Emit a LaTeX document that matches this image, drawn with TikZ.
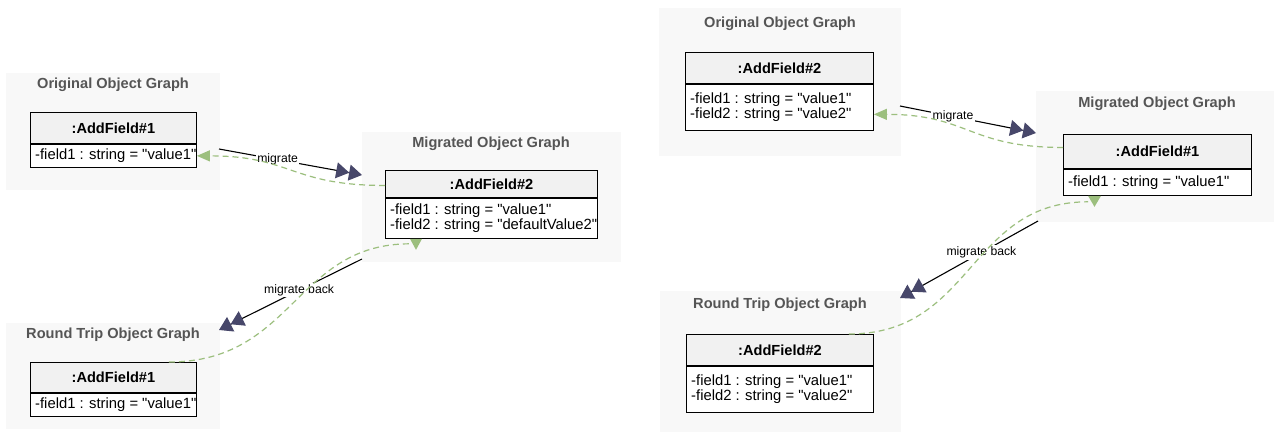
\documentclass[tikz,border=0pt]{standalone}
\usepackage{fontspec}
\setmainfont{Liberation Sans}[Ligatures=TeXOff]
\usetikzlibrary{arrows.meta,calc}

\definecolor{groupbg}{HTML}{F8F8F8}
\definecolor{titlegray}{HTML}{555555}
\definecolor{headbg}{HTML}{F1F1F1}
\definecolor{flowgreen}{HTML}{9CBF7E}
\definecolor{tipnavy}{HTML}{47476A}

\tikzset{
  group/.style={fill=groupbg, draw=none, anchor=north west, inner sep=0pt},
  grouptitle/.style={font=\fontsize{14.6}{16}\selectfont\bfseries, text=titlegray, inner sep=0pt},
  classhead/.style={draw=black, line width=0.9pt, fill=headbg, anchor=north west,
    inner sep=0pt, font=\fontsize{14.6}{16}\selectfont\bfseries},
  classbody/.style={draw=black, line width=0.9pt, fill=white, anchor=north west, inner sep=0pt},
  classtext/.style={anchor=west, inner sep=0pt, align=left,
    font=\fontsize{14.8}{14.6}\selectfont},
  transition/.style={draw=black, line width=1.1pt,
    -{Triangle[length=13pt,width=16pt,color=tipnavy]Triangle[length=13pt,width=16pt,color=tipnavy]}},
  translabel/.style={fill=white, inner sep=1.5pt, font=\fontsize{12.2}{14}\selectfont},
  flow/.style={draw=flowgreen, line width=1.2pt, dash pattern=on 6pt off 4pt},
  flowtip/.style={-{Triangle[length=13pt,width=11pt,color=flowgreen]}},
  endmark/.style={fill=flowgreen, draw=none},
}

% class box: name, x, y, width, header height, body height, header text, body text
\newcommand\umlbox[8]{%
  \node[classhead, minimum width=#4pt, minimum height=#5pt] (#1h) at (#2,#3) {#7};
  \node[classbody, minimum width=#4pt, minimum height=#6pt] (#1f) at (#1h.south west) {};
  \node[classtext] (#1t) at ($(#1f.west)+(5,0)$) {#8};
}

\begin{document}
\begin{tikzpicture}[x=1pt,y=-1pt]
  \useasboundingbox[fill=white] (0,0) rectangle (1274,432);

  % ---------- first round trip ----------
  \node[group, minimum width=214pt, minimum height=117pt] (gA) at (6,73) {};
  \node[grouptitle] (tA) at (113,85) {Original Object Graph};
  \umlbox{A}{30}{112}{166}{31}{23}{:AddField\#1}{-field1 : string = "value1"}

  \node[group, minimum width=259pt, minimum height=130pt] (gB) at (362,132) {};
  \node[grouptitle] (tB) at (491,144) {Migrated Object Graph};
  \umlbox{B}{385}{170}{212}{27}{40}{:AddField\#2}{-field1 : string = "value1"\\-field2 : string = "defaultValue2"}

  \node[group, minimum width=214pt, minimum height=106pt] (gC) at (6,323) {};
  \node[grouptitle] (tC) at (113,335) {Round Trip Object Graph};
  \umlbox{C}{30}{362}{166}{30}{23}{:AddField\#1}{-field1 : string = "value1"}

  % ---------- second round trip ----------
  \node[group, minimum width=242pt, minimum height=148pt] (gD) at (659,8) {};
  \node[grouptitle] (tD) at (780,24) {Original Object Graph};
  \umlbox{D}{685}{52}{188}{31}{46}{:AddField\#2}{-field1 : string = "value1"\\-field2 : string = "value2"}

  \node[group, minimum width=238pt, minimum height=131pt] (gE) at (1036,91) {};
  \node[grouptitle] (tE) at (1157,104) {Migrated Object Graph};
  \umlbox{E}{1063}{134}{188}{34}{26}{:AddField\#1}{-field1 : string = "value1"}

  \node[group, minimum width=241pt, minimum height=141pt] (gF) at (660,291) {};
  \node[grouptitle] (tF) at (780,305) {Round Trip Object Graph};
  \umlbox{F}{686}{334}{187}{31}{46}{:AddField\#2}{-field1 : string = "value1"\\-field2 : string = "value2"}

  % ---------- transition arrows ----------
  \coordinate (mA1) at (219,149);  \coordinate (mA2) at (362,175);
  \coordinate (bA1) at (362,259);  \coordinate (bA2) at (219,330);
  \coordinate (mD1) at (900,106);  \coordinate (mD2) at (1036,133);
  \coordinate (bE1) at (1038,221); \coordinate (bE2) at (900,298);

  \draw[transition] (mA1) -- node[translabel, pos=0.41] (lA) {migrate} (mA2);
  \draw[transition] (bA1) -- node[translabel, pos=0.44] (lB) {migrate back} (bA2);
  \draw[transition] (mD1) -- node[translabel, pos=0.39] (lD) {migrate} (mD2);
  \draw[transition] (bE1) -- node[translabel, pos=0.41] (lE) {migrate back} (bE2);

  % ---------- object correspondences ----------
  \draw[flow, flowtip] ($(Bh.west)+(0,1.5)$) .. controls +(-95,0) and +(95,0) .. (Af.east);
  \draw[flow] ($(Ch.north east)+(-28,0)$) .. controls +(125,0) and +(-115,0) .. ($(Bf.south west)+(25,5)$);
  \fill[endmark] ($(Bf.south west)+(25,0)$) -- ($(Bf.south west)+(37,0)$) -- ($(Bf.south west)+(31,11)$) -- cycle;

  \draw[flow, flowtip] ($(Eh.west)+(0,-4)$) .. controls +(-95,0) and +(95,0) .. ($(Df.east)+(0,7)$);
  \draw[flow] ($(Fh.north east)+(-25,0)$) .. controls +(125,0) and +(-120,0) .. ($(Ef.south west)+(25,6)$);
  \fill[endmark] ($(Ef.south west)+(25,0)$) -- ($(Ef.south west)+(38,0)$) -- ($(Ef.south west)+(31.5,11)$) -- cycle;
\end{tikzpicture}
\end{document}
